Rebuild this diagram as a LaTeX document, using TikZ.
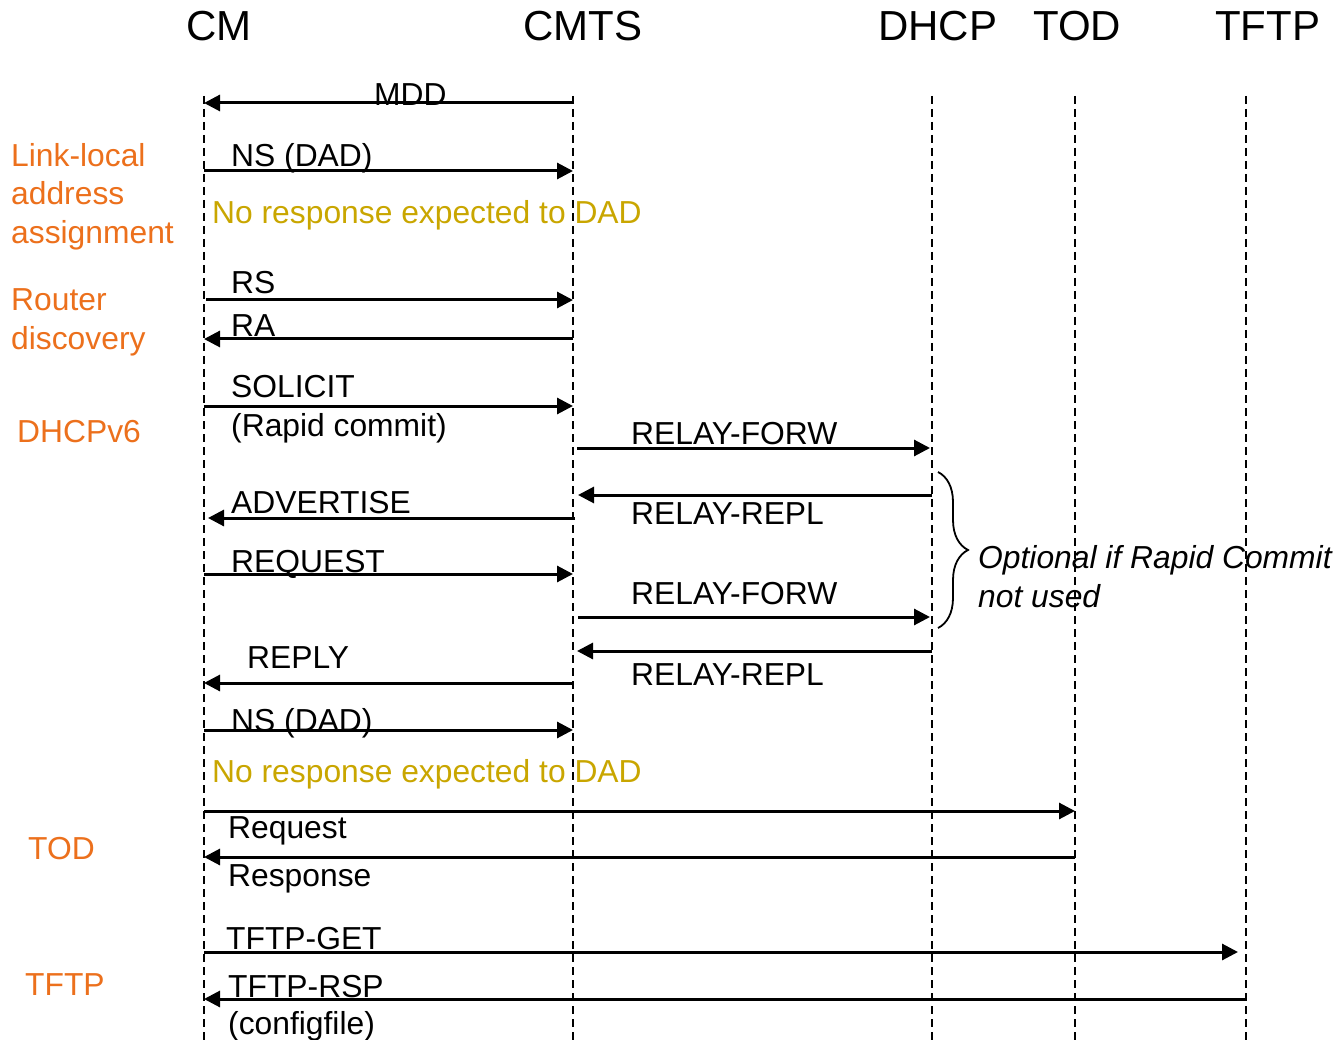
\documentclass[tikz,border=0pt]{standalone}
\usepackage{fontspec}
\setmainfont{Liberation Sans}
\usetikzlibrary{arrows.meta,decorations.pathreplacing}
\definecolor{phase}{RGB}{236,112,28}
\definecolor{note}{RGB}{201,166,0}
\begin{document}
\begin{tikzpicture}[x=1pt,y=-1pt,
  head/.style={anchor=base west,inner sep=0pt,font=\fontsize{42}{50}\selectfont},
  lbl/.style={anchor=base west,inner sep=0pt,font=\fontsize{31.8}{38}\selectfont},
  phaselbl/.style={lbl,text=phase},
  notelbl/.style={lbl,text=note},
  lifeline/.style={line width=1.8pt,dash pattern=on 8pt off 5pt},
  msg/.style={line width=3pt,-{Triangle[length=16pt,width=16pt]}},
]
\useasboundingbox (0,0) rectangle (1338,1040);

% participants
\node[head] (hcm)   at (186,41)  {CM};
\node[head] (hcmts) at (523,41)  {CMTS};
\node[head] (hdhcp) at (878,41)  {DHCP};
\node[head] (htod)  at (1033,41) {TOD};
\node[head] (htftp) at (1215,41) {TFTP};

% lifelines
\coordinate (cm)   at (204,96);
\coordinate (cmts) at (573,96);
\coordinate (dhcp) at (932,96);
\coordinate (tod)  at (1075,96);
\coordinate (tftp) at (1246,96);
\coordinate (bot)  at (0,1040);
\foreach \l in {cm,cmts,dhcp,tod,tftp}
  \draw[lifeline] (\l) -- (\l |- bot);

% message rows
\coordinate (mdd)   at (0,103);
\coordinate (ns1)   at (0,171);
\coordinate (rs)    at (0,300);
\coordinate (ra)    at (0,339);
\coordinate (sol)   at (0,406);
\coordinate (rf1)   at (0,448);
\coordinate (rr1)   at (0,495);
\coordinate (adv)   at (0,518);
\coordinate (req)   at (0,574);
\coordinate (rf2)   at (0,617);
\coordinate (rr2)   at (0,651);
\coordinate (rep)   at (0,683);
\coordinate (ns2)   at (0,730);
\coordinate (todq)  at (0,811);
\coordinate (tods)  at (0,857);
\coordinate (tget)  at (0,952);
\coordinate (trsp)  at (0,999);

% messages
\draw[msg] (cmts |- mdd) -- (cm |- mdd);
\draw[msg] (cm |- ns1) -- (cmts |- ns1);
\draw[msg,shorten <=2pt] (cm |- rs) -- (cmts |- rs);
\draw[msg] (cmts |- ra) -- (cm |- ra);
\draw[msg] (cm |- sol) -- (cmts |- sol);
\draw[msg,shorten <=4pt,shorten >=2pt] (cmts |- rf1) -- (dhcp |- rf1);
\draw[msg,shorten >=5pt] (dhcp |- rr1) -- (cmts |- rr1);
\draw[msg,shorten <=-2pt,shorten >=4pt] (cmts |- adv) -- (cm |- adv);
\draw[msg] (cm |- req) -- (cmts |- req);
\draw[msg,shorten <=5pt,shorten >=2pt] (cmts |- rf2) -- (dhcp |- rf2);
\draw[msg,shorten >=4pt] (dhcp |- rr2) -- (cmts |- rr2);
\draw[msg] (cmts |- rep) -- (cm |- rep);
\draw[msg] (cm |- ns2) -- (cmts |- ns2);
\draw[msg] (cm |- todq) -- (tod |- todq);
\draw[msg] (tod |- tods) -- (cm |- tods);
\draw[msg,shorten >=8pt] (cm |- tget) -- (tftp |- tget);
\draw[msg,shorten <=1pt] (tftp |- trsp) -- (cm |- trsp);

% message labels
\node[lbl] (lmdd)  at (374,106)  {MDD};
\node[lbl] (lns1)  at (231,167)  {NS (DAD)};
\node[notelbl] (lno1) at (212,224) {No response expected to DAD};
\node[lbl] (lrs)   at (231,294)  {RS};
\node[lbl] (lra)   at (231,337)  {RA};
\node[lbl] (lsol)  at (231,397)  {SOLICIT};
\node[lbl] (lrc)   at (231,436)  {(Rapid commit)};
\node[lbl] (lrf1)  at (631,444)  {RELAY-FORW};
\node[lbl] (lrr1)  at (631,524)  {RELAY-REPL};
\node[lbl] (ladv)  at (231,513)  {ADVERTISE};
\node[lbl] (lreq)  at (231,572)  {REQUEST};
\node[lbl] (lrf2)  at (631,604)  {RELAY-FORW};
\node[lbl] (lrr2)  at (631,685)  {RELAY-REPL};
\node[lbl] (lrep)  at (247,668)  {REPLY};
\node[lbl] (lns2)  at (231,731)  {NS (DAD)};
\node[notelbl] (lno2) at (212,782) {No response expected to DAD};
\node[lbl] (ltodq) at (228,838)  {Request};
\node[lbl] (ltods) at (228,886)  {Response};
\node[lbl] (ltget) at (226,949)  {TFTP-GET};
\node[lbl] (ltrsp) at (228,997)  {TFTP-RSP};
\node[lbl] (lcfg)  at (228,1034) {(configfile)};

% optional exchange
\draw[line width=1.8pt,decorate,decoration={brace,amplitude=30pt}]
  (938,472) coordinate (bt) -- (938,628) coordinate (bb);
\node[lbl,font=\fontsize{31.8}{38}\selectfont\itshape] (lopt1) at (978,568) {Optional if Rapid Commit};
\node[lbl,font=\fontsize{31.8}{38}\selectfont\itshape] (lopt2) at (978,607) {not used};

% phases
\node[phaselbl] (p1a) at (11,167)  {Link-local};
\node[phaselbl] (p1b) at (11,205)  {address};
\node[phaselbl] (p1c) at (11,244)  {assignment};
\node[phaselbl] (p2a) at (11,311)  {Router};
\node[phaselbl] (p2b) at (11,350)  {discovery};
\node[phaselbl] (p3)  at (17,442)  {DHCPv6};
\node[phaselbl] (p4)  at (28,859)  {TOD};
\node[phaselbl] (p5)  at (25,995)  {TFTP};
\end{tikzpicture}
\end{document}
